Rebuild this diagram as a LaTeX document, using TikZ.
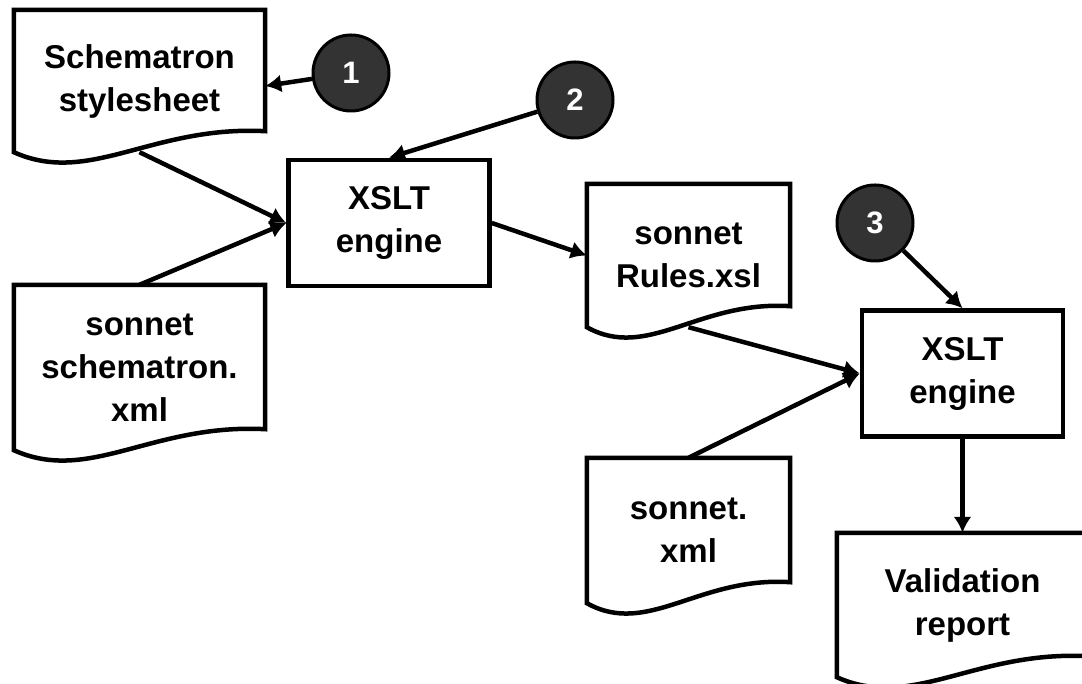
\documentclass[tikz,border=0pt]{standalone}
\usepackage{fontspec}
\setmainfont{Liberation Sans}
\usetikzlibrary{arrows.meta,calc}
\tikzset{
  txt/.style={font=\bfseries\fontsize{33}{43}\selectfont, align=center, inner sep=0pt},
  docnode/.style={txt, minimum height=#1},
  docline/.style={line width=4.5pt},
  engine/.style={txt, draw, line width=4.5pt, minimum width=201pt, minimum height=126pt},
  step circle/.style={circle, draw, line width=3pt, fill=black!80, text=white, minimum size=76pt,
    font=\bfseries\fontsize{31}{31}\selectfont, inner sep=0pt},
  flow/.style={line width=4.5pt, -{Latex[length=16pt,width=18pt]}}
}
% outline of a document: flat top, wavy bottom
\newcommand{\docpath}[1]{%
  \draw[docline] (#1.south west) -- (#1.north west) -- (#1.north east) -- ([yshift=21pt]#1.south east)
    .. controls ($(#1.south west)!0.55!(#1.south east)+(0,27)$) and ($(#1.south west)!0.3!(#1.south east)+(0,-34)$)
    .. (#1.south west) -- cycle;}
\begin{document}
\begin{tikzpicture}[x=1pt,y=1pt]
  \useasboundingbox (0,0) rectangle (1082,684);
  % documents
  \node[docnode=142pt, minimum width=251pt] (sheet) at (139.5,603) {Schematron\\stylesheet};
  \node[docnode=165pt, minimum width=251pt] (schema) at (139.5,316.5) {sonnet\\schematron.\\xml};
  \node[docnode=143pt, minimum width=203pt] (rules) at (688.5,428.5) {sonnet\\Rules.xsl};
  \node[docnode=145pt, minimum width=203pt] (sonnet) at (688.5,153.5) {sonnet.\\xml};
  \node[docnode=144pt, minimum width=251pt] (report) at (962.5,79) {Validation\\report};
  \foreach \d in {sheet,schema,rules,sonnet,report} {\docpath{\d}}
  % engines
  \node[engine] (xslt1) at (389,461) {XSLT\\engine};
  \node[engine] (xslt2) at (962.5,310.5) {XSLT\\engine};
  % numbered steps
  \node[step circle] (one) at (351,611) {1};
  \node[step circle] (two) at (575,584) {2};
  \node[step circle] (three) at (875,461) {3};
  % connectors
  \draw[flow] (one) -- ([yshift=-5pt]sheet.east);
  \draw[flow] (two) -- (xslt1.north);
  \draw[flow] (sheet.south) -- (xslt1.west);
  \draw[flow] (schema.north) -- (xslt1.west);
  \draw[flow] (xslt1.east) -- (rules.west);
  \draw[flow] (rules.south) -- (xslt2.west);
  \draw[flow] (sonnet.north) -- (xslt2.west);
  \draw[flow] (three) -- (xslt2.north);
  \draw[flow] (xslt2.south) -- (report.north);
\end{tikzpicture}
\end{document}
